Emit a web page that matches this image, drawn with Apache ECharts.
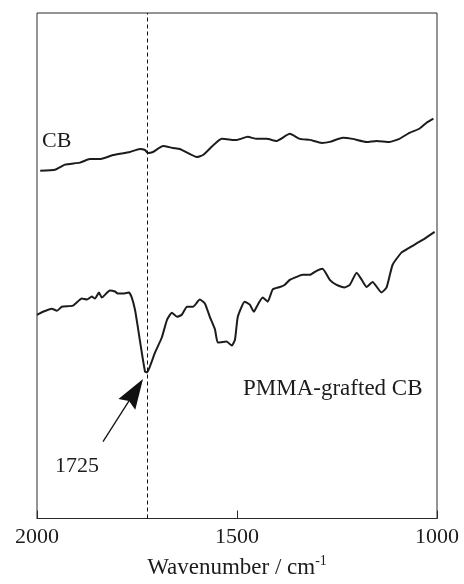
<!DOCTYPE html>
<html>
<head>
<meta charset="utf-8">
<script src="https://cdn.jsdelivr.net/npm/echarts@6/dist/echarts.min.js"></script>
<style>
  html, body { margin: 0; padding: 0; background: #fff; }
  #chart { width: 464px; height: 584px; }
</style>
</head>
<body>
<div id="chart"></div>
<script>
// FT-IR spectra (transmittance, arbitrary units) vs wavenumber
const cbWavenumber = [1992, 1955, 1930, 1893, 1868, 1843, 1810, 1768, 1743, 1730, 1723, 1710, 1685, 1660, 1643,
  1600, 1585, 1538, 1511, 1501, 1473, 1451, 1426, 1401, 1368, 1343, 1318, 1288, 1268, 1236, 1211, 1176, 1151,
  1119, 1094, 1069, 1044, 1026, 1009];
const cbSignal = [68.8, 69.0, 70.0, 70.4, 71.1, 71.1, 71.9, 72.5, 73.1, 72.9, 72.3, 72.5, 73.7, 73.3, 73.1,
  71.5, 71.9, 75.1, 74.9, 74.9, 75.5, 75.1, 75.1, 74.7, 76.1, 75.1, 74.9, 74.3, 74.5, 75.3, 75.1, 74.5, 74.7,
  74.5, 75.1, 76.3, 77.1, 78.3, 79.1];

const pmmaWavenumber = [2000, 1985, 1963, 1950, 1938, 1910, 1888, 1875, 1863, 1855, 1845, 1838, 1818, 1805, 1798,
  1785, 1770, 1763, 1755, 1748, 1738, 1730, 1725, 1718, 1705, 1688, 1675, 1663, 1650, 1638, 1625, 1610, 1593,
  1580, 1568, 1555, 1548, 1526, 1513, 1505, 1498, 1481, 1468, 1458, 1448, 1436, 1423, 1411, 1393, 1381, 1368,
  1351, 1336, 1318, 1301, 1286, 1268, 1251, 1231, 1218, 1201, 1188, 1176, 1161, 1139, 1126, 1111, 1089, 1069,
  1036, 1006];
const pmmaSignal = [40.3, 40.9, 41.5, 41.1, 41.9, 42.1, 43.5, 43.3, 43.9, 43.5, 44.7, 43.7, 45.1, 44.9, 44.5,
  44.5, 44.7, 43.7, 41.3, 37.9, 32.8, 29.1, 28.9, 30.0, 32.8, 35.8, 39.3, 40.7, 39.9, 40.3, 41.9, 41.9, 43.3,
  42.5, 39.9, 37.4, 34.8, 35.0, 34.2, 35.4, 39.9, 42.9, 42.3, 40.9, 42.3, 43.7, 42.9, 45.3, 45.8, 46.2, 47.2,
  47.8, 48.2, 48.2, 49.0, 49.4, 47.2, 46.2, 45.7, 46.2, 48.6, 47.2, 45.8, 46.8, 44.7, 45.7, 50.2, 52.6, 53.6,
  55.1, 56.7];

const xTicks = [2000, 1500, 1000];
const carbonylBand = 1725;
// arrow pointing at the carbonyl band, in data units: [wavenumber, signal]
const arrowTail = [1835, 15.2];
const arrowTip = [1735, 27.6];

const serif = '"Liberation Serif", "DejaVu Serif", serif';
const ink = '#1c1c1c';

const zip = (xs, ys) => xs.map((x, i) => [x, ys[i]]);

const chart = echarts.init(document.getElementById('chart'), null, { renderer: 'canvas' });

chart.setOption({
  animation: false,
  backgroundColor: '#fff',
  grid: {
    left: 37, right: 27, top: 13, bottom: 65,
    show: true, borderColor: '#2a2a2a', borderWidth: 1, backgroundColor: 'transparent'
  },
  xAxis: {
    type: 'value',
    min: 1000, max: 2000, interval: 500, inverse: true,
    axisLine: { show: true, lineStyle: { color: '#2a2a2a', width: 1 } },
    axisTick: { show: true, inside: true, length: 8, lineStyle: { color: '#2a2a2a' } },
    splitLine: { show: false },
    axisLabel: {
      fontFamily: serif, fontSize: 22, color: ink, margin: 8,
      showMinLabel: true, showMaxLabel: true,
      formatter: v => (xTicks.includes(v) ? String(v) : '')
    },
    name: 'Wavenumber / cm{sup|-1}',
    nameLocation: 'middle',
    nameGap: 36,
    nameTextStyle: {
      fontFamily: serif, fontSize: 23, color: ink,
      rich: { sup: { fontFamily: serif, fontSize: 14, color: ink, verticalAlign: 'top', padding: [0, 0, 12, 0] } }
    }
  },
  yAxis: { type: 'value', min: 0, max: 100, show: false },
  series: [
    {
      name: 'CB', type: 'line', data: zip(cbWavenumber, cbSignal),
      showSymbol: false, smooth: 0.15,
      lineStyle: { color: ink, width: 2 },
      markLine: {
        silent: true, symbol: ['none', 'none'],
        label: { show: false },
        lineStyle: { color: '#111', width: 1, type: [4, 3] },
        data: [{ xAxis: carbonylBand }]
      }
    },
    {
      name: 'PMMA-grafted CB', type: 'line', data: zip(pmmaWavenumber, pmmaSignal),
      showSymbol: false, smooth: 0.15,
      lineStyle: { color: ink, width: 2 }
    }
  ]
});

// Labels and the arrow annotation; the arrow is placed through the axis scales
const [tx, ty] = chart.convertToPixel({ gridIndex: 0 }, arrowTail);
const [hx, hy] = chart.convertToPixel({ gridIndex: 0 }, arrowTip);
const dx = hx - tx, dy = hy - ty;
const len = Math.hypot(dx, dy);
const ux = dx / len, uy = dy / len;
const headLen = 30, headHalf = 10, notch = 4;
const bx = hx - ux * headLen, by = hy - uy * headLen;
const px = -uy, py = ux;

chart.setOption({
  graphic: {
    elements: [
      { id: 'lblCB', type: 'text', left: 42, top: 130,
        style: { text: 'CB', fontFamily: serif, fontSize: 22, fill: ink } },
      { id: 'lblPMMA', type: 'text', left: 243, top: 377,
        style: { text: 'PMMA-grafted CB', fontFamily: serif, fontSize: 23, fill: ink } },
      { id: 'lblBand', type: 'text', left: 55, top: 455,
        style: { text: '1725', fontFamily: serif, fontSize: 22, fill: ink } },
      { id: 'arrowShaft', type: 'line', silent: true,
        shape: { x1: tx, y1: ty, x2: bx + ux * notch, y2: by + uy * notch },
        style: { stroke: '#111', lineWidth: 1.3 } },
      { id: 'arrowHead', type: 'polygon', silent: true,
        shape: {
          points: [
            [hx, hy],
            [bx + px * headHalf, by + py * headHalf],
            [bx + ux * notch, by + uy * notch],
            [bx - px * headHalf, by - py * headHalf]
          ]
        },
        style: { fill: '#111' } }
    ]
  }
});
</script>
</body>
</html>
